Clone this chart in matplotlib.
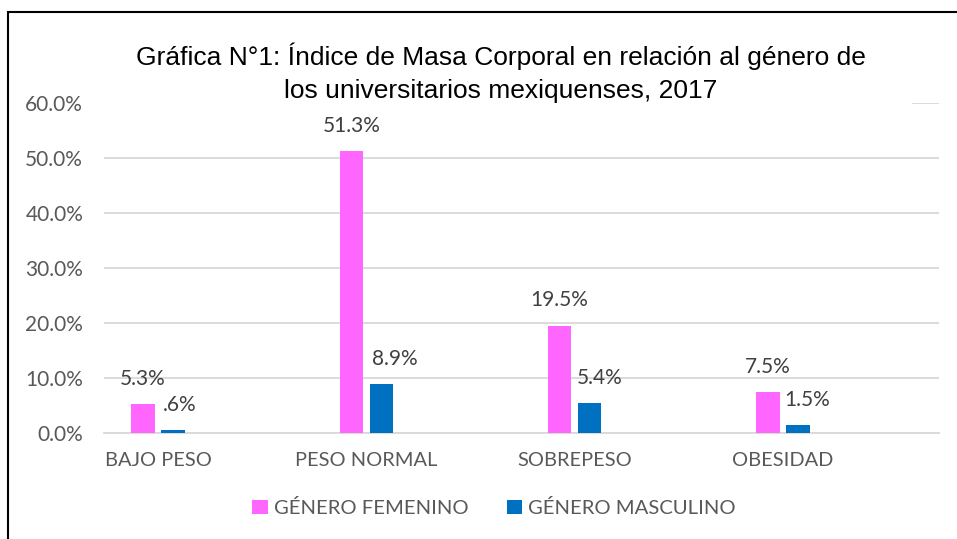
import matplotlib
matplotlib.use("Agg")
import matplotlib.pyplot as plt
from matplotlib.patches import Rectangle
import numpy as np

W, H = 957, 539

categories = ["BAJO PESO", "PESO NORMAL", "SOBREPESO", "OBESIDAD"]
series_names = ["GÉNERO FEMENINO", "GÉNERO MASCULINO"]
femenino = [5.3, 51.3, 19.5, 7.5]
masculino = [0.6, 8.9, 5.4, 1.5]
label_fem = ["5.3%", "51.3%", "19.5%", "7.5%"]
label_mas = [".6%", "8.9%", "5.4%", "1.5%"]
yticks = [0, 10, 20, 30, 40, 50, 60]
ytick_labels = ["0.0%", "10.0%", "20.0%", "30.0%", "40.0%", "50.0%", "60.0%"]

C_FEM = "#FF66FF"
C_MAS = "#0070C0"
C_GRID = "#D9D9D9"
C_TICK = "#595959"
C_LBL = "#404040"
TITLE_FONT = ["Liberation Sans", "DejaVu Sans"]
BODY = ["Lato", "DejaVu Sans"]

# label offsets in points (dx, dy) from the top centre of each bar
off_fem = [(0, 18), (0, 18), (0, 18.5), (0, 18)]
off_mas = [(5, 18), (9.5, 18), (7, 18), (7, 18)]

fig = plt.figure(figsize=(W / 100, H / 100), dpi=100)
ax = fig.add_axes([104 / W, 1 - 433 / H, (939 - 104) / W, (433 - 103) / H])

x = np.arange(len(categories))
bw = 0.113
ax.bar(x - 0.072, femenino, bw, color=C_FEM, zorder=3, label=series_names[0])
ax.bar(x + 0.072, masculino, bw, color=C_MAS, zorder=3, label=series_names[1])

for i in range(len(categories)):
    ax.annotate(label_fem[i], (x[i] - 0.072, femenino[i]), xytext=off_fem[i],
                textcoords="offset points", ha="center", va="center",
                fontsize=15, color=C_LBL, family=BODY, zorder=5)
    ax.annotate(label_mas[i], (x[i] + 0.072, masculino[i]), xytext=off_mas[i],
                textcoords="offset points", ha="center", va="center",
                fontsize=15, color=C_LBL, family=BODY, zorder=5)

ax.set_xlim((104 - 158) / 208.3, (939 - 158) / 208.3)
ax.set_ylim(0, 60)
ax.set_yticks(yticks)
ax.set_yticklabels(ytick_labels, family=BODY, fontsize=15, color=C_TICK)
ax.set_xticks(x)
ax.set_xticklabels(categories, family=BODY, fontsize=14.4, color=C_TICK)
ax.tick_params(axis="both", length=0)
ax.tick_params(axis="x", pad=14)
ax.tick_params(axis="y", pad=15)
ax.grid(axis="y", color=C_GRID, lw=1.3, zorder=0)
ax.set_axisbelow(True)
for s in ["top", "right", "left"]:
    ax.spines[s].set_visible(False)
ax.spines["bottom"].set_color(C_GRID)
ax.spines["bottom"].set_linewidth(1.3)

# white box behind title hides the top gridline
fig.patches.append(Rectangle((104 / W, 1 - 112 / H), (912 - 104) / W, 16 / H,
                             transform=fig.transFigure, facecolor="white",
                             edgecolor="none", zorder=2))
fig.text(501 / W, 1 - 73 / H,
         "Gráfica N°1: Índice de Masa Corporal en relación al género de\n"
         "los universitarios mexiquenses, 2017",
         ha="center", va="center", fontsize=19, family=TITLE_FONT,
         color="black", linespacing=1.45, zorder=4)

leg = fig.legend(loc="center", bbox_to_anchor=(494 / W, 1 - 508 / H), ncol=2,
                 frameon=False, prop={"family": BODY, "size": 14.6},
                 handlelength=0.75, handleheight=0.75, handletextpad=0.3,
                 columnspacing=1.9)
for t in leg.get_texts():
    t.set_color(C_TICK)

fig.patches.append(Rectangle((8 / W, -0.05), 1.2, 1 - 12 / H + 0.05,
                             transform=fig.transFigure, facecolor="none",
                             edgecolor="black", lw=1.5, zorder=10))

fig.savefig("out.png", dpi=100)
